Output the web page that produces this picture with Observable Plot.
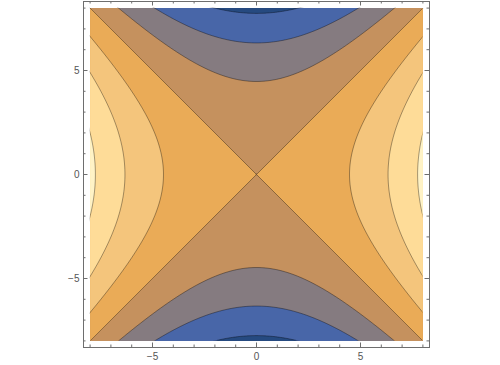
<!DOCTYPE html>
<html>
<head>
<meta charset="utf-8">
<script src="https://cdn.jsdelivr.net/npm/d3@7"></script>
<script src="https://cdn.jsdelivr.net/npm/@observablehq/plot@0.6"></script>
<style>
  html, body { margin: 0; padding: 0; background: #fff; }
  #chart svg { display: block; }
</style>
</head>
<body>
<div id="chart"></div>
<script>
// ---- data ----
const surface = (x, y) => x * x - y * y;     // plotted function
const extent = [-8, 8];                        // plot range in x and y
const levels = [-60, -40, -20, 0, 20, 40, 60]; // contour levels
const bandColors = ["#264a80", "#4866a8", "#857b80", "#c5915e", "#eaab57", "#f4c57c", "#fedc98", "#fff3c6"];
const minorTicks = [-8, -7, -6, -5, -4, -3, -2, -1, 0, 1, 2, 3, 4, 5, 6, 7, 8];
const majorTicks = [-5, 0, 5];
const labelTicks = [-5, 0, 5];

// ---- layout ----
const W = 500, H = 365;
const mL = 89.6, mR = 77.6, mT = 7.6, mB = 24.6;
const pad = 6.6;
const plotW = W - mL - mR, plotH = H - mT - mB;
const axisColor = "#6e6e6e";
const minorLen = 2.5, majorLen = 4.5;

const fillThresholds = [-1000, ...levels];

const tickSet = (ticks, len) => [
  Plot.tickX(ticks, {x: d => d, insetTop: plotH + pad - len, insetBottom: -pad, stroke: axisColor}),
  Plot.tickX(ticks, {x: d => d, insetTop: -pad, insetBottom: plotH + pad - len, stroke: axisColor}),
  Plot.tickY(ticks, {y: d => d, insetLeft: -pad, insetRight: plotW + pad - len, stroke: axisColor}),
  Plot.tickY(ticks, {y: d => d, insetLeft: plotW + pad - len, insetRight: -pad, stroke: axisColor})
];

const chart = Plot.plot({
  width: W,
  height: H,
  marginLeft: mL,
  marginRight: mR,
  marginTop: mT,
  marginBottom: mB,
  style: {fontFamily: "'Liberation Sans', Arial, sans-serif", fontSize: "10px", background: "#fff"},
  x: {domain: extent},
  y: {domain: extent},
  color: {type: "threshold", domain: levels, range: bandColors},
  marks: [
    Plot.contour({
      fill: surface,
      x1: extent[0], x2: extent[1], y1: extent[0], y2: extent[1],
      thresholds: fillThresholds,
      pixelSize: 1,
      stroke: "none"
    }),
    Plot.contour({
      value: surface,
      x1: extent[0] - 1, x2: extent[1] + 1, y1: extent[0] - 1, y2: extent[1] + 1,
      thresholds: levels,
      pixelSize: 1,
      fill: "none",
      stroke: "#000",
      strokeOpacity: 0.45,
      strokeWidth: 0.8,
      clip: true
    }),
    Plot.frame({inset: -pad, stroke: axisColor, strokeWidth: 1}),
    ...tickSet(minorTicks, minorLen),
    ...tickSet(majorTicks, majorLen),
    Plot.axisX({anchor: "bottom", ticks: labelTicks, tickSize: 0, tickPadding: 11.5, fill: "#555", fontSize: 10}),
    Plot.axisY({anchor: "left", ticks: labelTicks, tickSize: 0, tickPadding: 10.6, fill: "#555", fontSize: 10})
  ]
});
document.getElementById("chart").appendChild(chart);
</script>
</body>
</html>
